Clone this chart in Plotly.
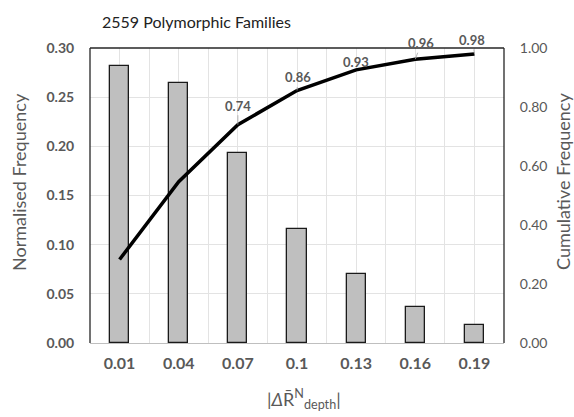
import plotly.graph_objects as go

categories = [0.01, 0.04, 0.07, 0.10, 0.13, 0.16, 0.19]
tick_labels = ["0.01", "0.04", "0.07", "0.1", "0.13", "0.16", "0.19"]
normalised = [0.282, 0.264, 0.193, 0.116, 0.070, 0.037, 0.018]
cumulative = [0.283, 0.547, 0.740, 0.856, 0.926, 0.962, 0.980]
label_idx = [2, 3, 4, 5, 6]
label_ax = [0, 1, 0, 6, -2]
label_ay = [-19, -13, -8, -16, -14]

FONT = "Lato, 'Open Sans', sans-serif"
GRAY = "#595959"
GRID = "#e3e3e3"

W, H = 574, 417
L, R, T, B = 90, 70, 48, 74
PW, PH = W - L - R, H - T - B


def px(x):
    return (x - L) / PW


def py(y):
    return (H - B - y) / PH


fig = go.Figure()
fig.add_trace(go.Bar(
    x=categories, y=normalised, width=0.0097,
    marker=dict(color="#bfbfbf", line=dict(color="#1a1a1a", width=1.3)),
    yaxis="y", showlegend=False, hoverinfo="skip"))
fig.add_trace(go.Scatter(
    x=categories, y=cumulative, mode="lines",
    line=dict(color="black", width=3.5),
    yaxis="y2", showlegend=False, hoverinfo="skip"))

for i, ax, ay in zip(label_idx, label_ax, label_ay):
    fig.add_annotation(
        x=categories[i], y=cumulative[i], xref="x", yref="y2",
        text="<b>%.2f</b>" % cumulative[i], showarrow=True,
        arrowhead=0, arrowwidth=0.8, arrowcolor="#a6a6a6",
        ax=ax, ay=ay, font=dict(family=FONT, size=13, color=GRAY))

fig.add_annotation(
    x=px(100), y=py(21), xref="paper", yref="paper", xanchor="left", yanchor="middle",
    text="2559 Polymorphic Families", showarrow=False,
    font=dict(family=FONT, size=16, color="#222222"))
fig.add_annotation(
    x=px(19), y=py(182), xref="paper", yref="paper", xanchor="center", yanchor="middle",
    text="Normalised Frequency", textangle=-90, showarrow=False,
    font=dict(family=FONT, size=18, color=GRAY))
fig.add_annotation(
    x=px(563), y=py(182), xref="paper", yref="paper", xanchor="center", yanchor="middle",
    text="Cumulative Frequency", textangle=-90, showarrow=False,
    font=dict(family=FONT, size=18, color=GRAY))
fig.add_annotation(
    x=px(304), y=py(399), xref="paper", yref="paper", xanchor="center", yanchor="middle",
    text="|<i>Δ</i>R̄<sup>N</sup><sub>depth</sub>|", showarrow=False,
    font=dict(family=FONT, size=18, color=GRAY))

# frame: left, top, right dark
for x0, y0, x1, y1 in [(0, 0, 0, 1), (0, 1, 1, 1), (1, 0, 1, 1)]:
    fig.add_shape(type="line", xref="paper", yref="paper",
                  x0=x0, y0=y0, x1=x1, y1=y1,
                  line=dict(color="#262626", width=1.3), layer="above")

fig.update_layout(
    width=W, height=H,
    margin=dict(l=L, r=R, t=T, b=B, autoexpand=False),
    plot_bgcolor="white", paper_bgcolor="white",
    font=dict(family=FONT, color=GRAY),
    bargap=0,
    xaxis=dict(
        range=[-0.005, 0.205], tickvals=categories, ticktext=tick_labels,
        showgrid=True, gridcolor=GRID, gridwidth=1,
        minor=dict(tick0=0.01, dtick=0.015, showgrid=True, gridcolor=GRID, gridwidth=1),
        showline=True, linecolor="#bfbfbf", linewidth=1.3,
        ticks="outside", ticklen=6, tickcolor="rgba(0,0,0,0)", zeroline=False,
        automargin=False,
        tickfont=dict(family=FONT, size=16, color=GRAY, weight="bold"),
    ),
    yaxis=dict(
        range=[0, 0.30], dtick=0.05, tickformat=".2f",
        showgrid=True, gridcolor=GRID, gridwidth=1, zeroline=False,
        automargin=False,
        tickfont=dict(family=FONT, size=14, color=GRAY, weight="bold"),
        ticks="outside", ticklen=12, tickcolor="rgba(0,0,0,0)",
    ),
    yaxis2=dict(
        range=[0, 1.0], dtick=0.2, tickformat=".2f", overlaying="y", side="right",
        showgrid=False, zeroline=False, automargin=False,
        tickfont=dict(family=FONT, size=14, color=GRAY),
        ticks="outside", ticklen=12, tickcolor="rgba(0,0,0,0)",
    ),
)

fig.write_html("out.html", config={"displayModeBar": False},
               post_script="document.body.style.margin='0';")
